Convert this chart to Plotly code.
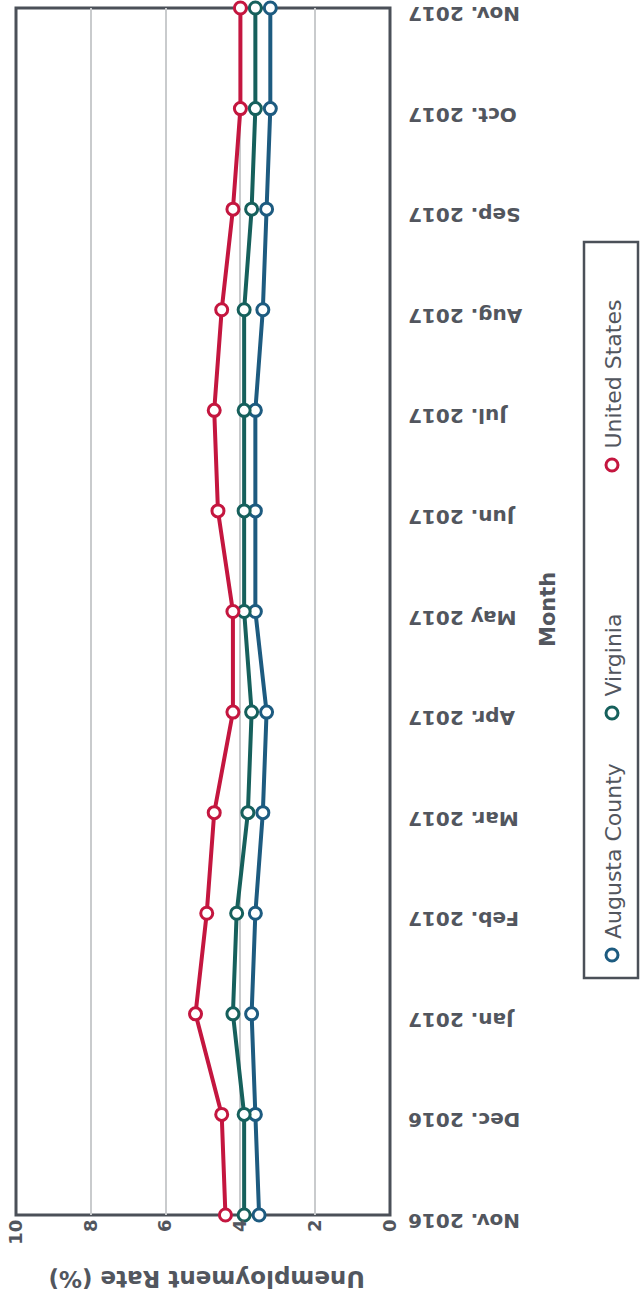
import plotly.graph_objects as go

# Monthly unemployment rates (%), Nov. 2016 - Nov. 2017
months = ["Nov. 2016", "Dec. 2016", "Jan. 2017", "Feb. 2017", "Mar. 2017",
          "Apr. 2017", "May 2017", "Jun. 2017", "Jul. 2017", "Aug. 2017",
          "Sep. 2017", "Oct. 2017", "Nov. 2017"]
augusta_county = [3.5, 3.6, 3.7, 3.6, 3.4, 3.3, 3.6, 3.6, 3.6, 3.4, 3.3, 3.2, 3.2]
virginia = [3.9, 3.9, 4.2, 4.1, 3.8, 3.7, 3.9, 3.9, 3.9, 3.9, 3.7, 3.6, 3.6]
united_states = [4.4, 4.5, 5.2, 4.9, 4.7, 4.2, 4.2, 4.6, 4.7, 4.5, 4.2, 4.0, 4.0]
rate_ticks = [0, 2, 4, 6, 8, 10]

series = [
    ("Augusta County", augusta_county, "#1d5b80"),
    ("Virginia", virginia, "#16605c"),
    ("United States", united_states, "#c4163f"),
]

W, H = 642, 1300
ML, MR, MT, MB = 16, 252, 8, 85
PW, PH = W - ML - MR, H - MT - MB


def px_x(px):
    return (px - ML) / PW


def px_y(py):
    return (H - MB - py) / PH


fig = go.Figure()
for name, vals, color in series:
    fig.add_trace(go.Scatter(
        x=vals, y=months, name=name, mode="lines+markers",
        line=dict(color=color, width=4),
        marker=dict(symbol="circle", size=12, color="white",
                    line=dict(color=color, width=3)),
        cliponaxis=False, showlegend=False,
    ))

axis_col = "#4b5058"
text_col = "#52565e"
bold_font = "DejaVu Sans Bold, DejaVu Sans"

fig.update_layout(
    width=W, height=H,
    margin=dict(l=ML, r=MR, t=MT, b=MB),
    paper_bgcolor="white", plot_bgcolor="white",
    xaxis=dict(
        range=[10, 0], tickvals=rate_ticks, tickangle=-90,
        showgrid=True, gridcolor="#c9cbcd", gridwidth=2,
        showline=False, zeroline=False, ticks="", automargin=False,
        tickfont=dict(family="DejaVu Sans", size=18, color=text_col, weight="bold"),
    ),
    # month axis sits on the right edge; labels read upside down
    yaxis=dict(
        type="category", categoryarray=months, range=[0, 12],
        anchor="free", position=1.0, side="left", tickangle=180,
        showgrid=False, showline=False, zeroline=False, ticks="",
        automargin=False, ticklabelstandoff=-18, ticklabelshift=12,
        tickfont=dict(family="DejaVu Sans", size=20, color=text_col, weight="bold"),
    ),
)

annotations = [
    dict(text="<b>Unemployment Rate (%)</b>", x=px_x(207), y=px_y(1279),
         textangle=180, font=dict(family="DejaVu Sans", size=23, color=text_col)),
    dict(text="<b>Month</b>", x=px_x(548), y=px_y(610),
         textangle=-90, font=dict(family="DejaVu Sans", size=21, color=text_col)),
]
for a in annotations:
    a.update(xanchor="center", yanchor="middle")

# plot frame
shapes = [dict(type="rect", xref="paper", yref="paper", x0=0, x1=1, y0=0, y1=1,
               line=dict(color=axis_col, width=3), layer="below")]

# Legend box drawn vertically on the right
shapes.append(dict(type="rect", xref="paper", yref="paper",
                   x0=px_x(584), x1=px_x(638), y0=px_y(978), y1=px_y(242),
                   line=dict(color=axis_col, width=2.5), fillcolor="white", layer="below"))
legend_marker_y = [955, 713, 465]
for (name, vals, color), my in zip(series, legend_marker_y):
    shapes.append(dict(type="circle", xref="paper", yref="paper",
                       xsizemode="pixel", ysizemode="pixel",
                       xanchor=px_x(612), yanchor=px_y(my),
                       x0=-6, x1=6, y0=-6, y1=6,
                       line=dict(color=color, width=3), fillcolor="white"))
    annotations.append(dict(text=name, x=px_x(613), y=px_y(my - 14),
                            xanchor="center", yanchor="bottom", textangle=-90,
                            font=dict(family="DejaVu Sans", size=22, color=text_col)))

for a in annotations:
    a.update(xref="paper", yref="paper", showarrow=False)
fig.update_layout(annotations=annotations, shapes=shapes)

fig.write_html("out.html")
